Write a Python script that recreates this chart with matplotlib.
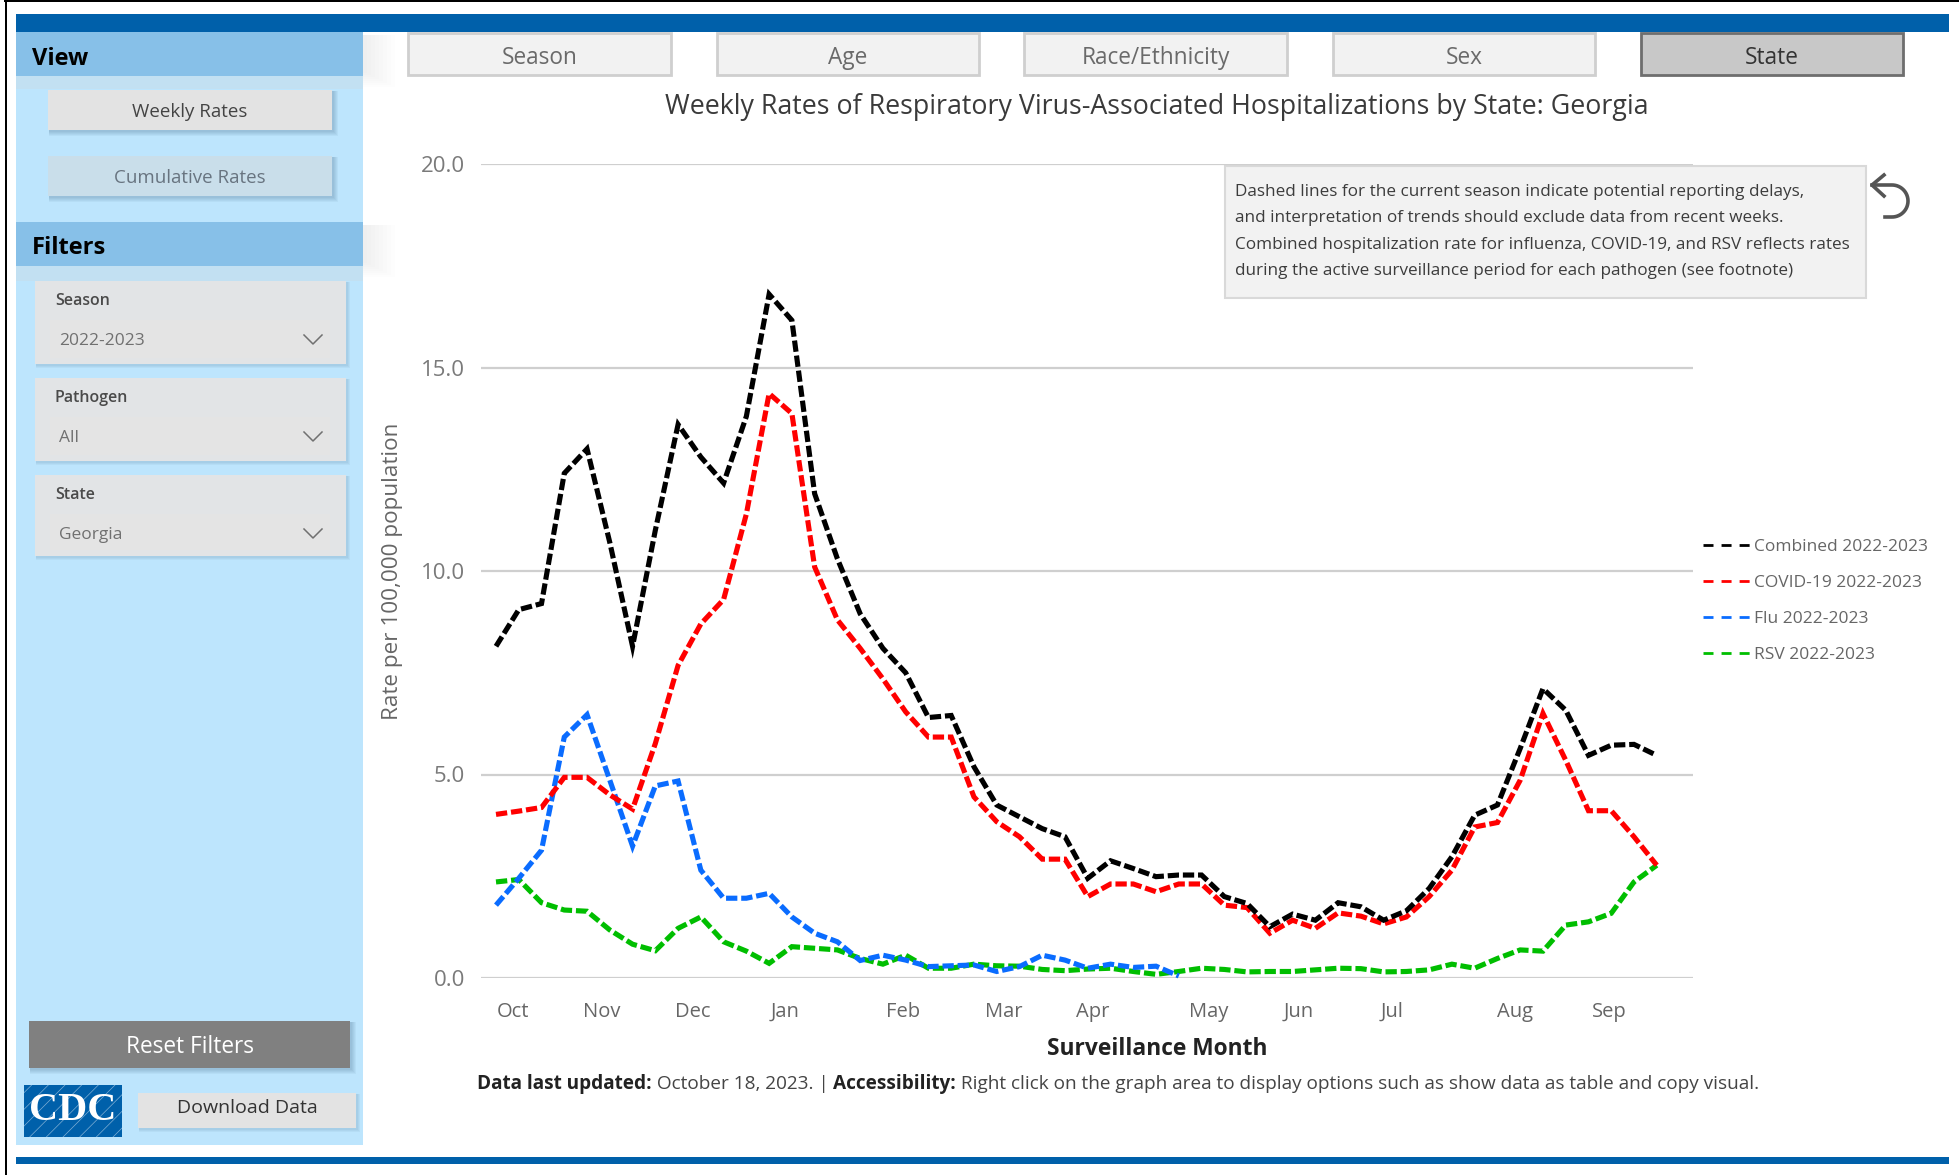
import matplotlib
matplotlib.use('Agg')
import matplotlib.pyplot as plt
from matplotlib.patches import Rectangle
import numpy as np

# weekly values, Oct 2022 to Sep 2023
combined = [8.15, 9.05, 9.2, 12.4, 13.0, 10.7, 8.15, 11.0, 13.6, 12.8, 12.16, 13.8, 16.8, 16.16, 11.9, 10.3,
            8.95, 8.1, 7.5, 6.4, 6.45, 5.19, 4.25, 3.96, 3.67, 3.47, 2.45, 2.88, 2.69, 2.49, 2.53, 2.53,
            2.0, 1.83, 1.26, 1.57, 1.42, 1.85, 1.75, 1.42, 1.65, 2.2, 2.98, 4.0, 4.25, 5.64, 7.11, 6.58,
            5.47, 5.72, 5.74, 5.47]
covid = [4.02, 4.1, 4.19, 4.93, 4.93, 4.5, 4.15, 5.76, 7.68, 8.7, 9.3, 11.4, 14.36, 13.87, 10.1, 8.8,
         8.1, 7.35, 6.54, 5.92, 5.92, 4.45, 3.84, 3.47, 2.92, 2.92, 2.0, 2.31, 2.31, 2.12, 2.31, 2.31,
         1.79, 1.73, 1.1, 1.42, 1.22, 1.6, 1.52, 1.33, 1.5, 2.0, 2.65, 3.71, 3.82, 4.86, 6.5, 5.35,
         4.11, 4.11, 3.47, 2.77]
flu = [1.79, 2.45, 3.14, 5.92, 6.47, 4.86, 3.24, 4.72, 4.84, 2.65, 1.96, 1.96, 2.08, 1.5, 1.1, 0.89,
       0.43, 0.56, 0.44, 0.28, 0.3, 0.32, 0.16, 0.28, 0.56, 0.44, 0.24, 0.34, 0.26, 0.29, 0.05]
rsv = [2.36, 2.42, 1.85, 1.67, 1.64, 1.18, 0.83, 0.67, 1.22, 1.5, 0.89, 0.66, 0.36, 0.77, 0.73, 0.69,
       0.48, 0.34, 0.56, 0.24, 0.24, 0.34, 0.3, 0.29, 0.21, 0.18, 0.22, 0.24, 0.16, 0.09, 0.16, 0.24,
       0.21, 0.15, 0.16, 0.16, 0.2, 0.24, 0.23, 0.15, 0.16, 0.2, 0.34, 0.24, 0.48, 0.69, 0.66, 1.3,
       1.38, 1.59, 2.36, 2.77]
months = ['Oct', 'Nov', 'Dec', 'Jan', 'Feb', 'Mar', 'Apr', 'May', 'Jun', 'Jul', 'Aug', 'Sep']
month_weeks = [0.75, 4.65, 8.65, 12.7, 17.9, 22.3, 26.2, 31.3, 35.25, 39.35, 44.75, 48.9]
y_ticks = [0, 5, 10, 15, 20]
tabs = ['Season', 'Age', 'Race/Ethnicity', 'Sex', 'State']
note_lines = ['Dashed lines for the current season indicate potential reporting delays,',
              'and interpretation of trends should exclude data from recent weeks.',
              'Combined hospitalization rate for influenza, COVID-19, and RSV reflects rates',
              'during the active surveillance period for each pathogen (see footnote)']

W, H = 1959, 1175
plt.rcParams['font.family'] = ['Open Sans', 'DejaVu Sans']
plt.rcParams['hatch.linewidth'] = 0.5
fig = plt.figure(figsize=(W / 100, H / 100), dpi=100)

# page furniture is drawn in pixel coordinates on a full figure axes
ui = fig.add_axes([0, 0, 1, 1], zorder=1)
ui.set_xlim(0, W)
ui.set_ylim(H, 0)
ui.axis('off')


def box(x0, y0, x1, y1, color, edge='none', lw=0, z=2):
    ui.add_patch(Rectangle((x0, y0), x1 - x0, y1 - y0, facecolor=color, edgecolor=edge, linewidth=lw, zorder=z))


def shadow(x0, y0, x1, y1, size=5):
    for i in range(size, 0, -1):
        ui.add_patch(Rectangle((x0 + 1, y0 + 1), x1 - x0 + i, y1 - y0 + i, facecolor='#3A5F80',
                               alpha=0.06, edgecolor='none', zorder=2))


def label(x, y, s, size=14, color='#444444', ha='center', weight='normal', z=5):
    # va center sits a little high with this font
    return ui.text(x, y + size * 0.15, s, fontsize=size, color=color, ha=ha, va='center', weight=weight, zorder=z)


# page frame and bars
box(4, 0, W, 1.5, 'black')
box(5, 0, 7, H, 'black')
box(16, 14, 1949, 32, '#0060AA', z=3)
box(16, 1157, 1949, 1164, '#0060AA', z=3)

# side panel
box(16, 32, 363, 1145, '#BDE5FD', z=1)
for y0 in [32, 222]:
    for i in range(8):
        ui.add_patch(Rectangle((363, y0 + 3), 4 + i * 4, 38 + i * 2, facecolor='#888888', alpha=0.012,
                               edgecolor='none', zorder=0.5))
box(16, 32, 363, 76, '#87C0E8')
box(16, 76, 363, 89, '#C2E0F2', z=1.5)
box(16, 222, 363, 266, '#87C0E8')
box(16, 266, 363, 281, '#C2E0F2', z=1.5)
label(32, 56, 'View', 17, 'black', 'left', 'bold')
label(32, 245, 'Filters', 17, 'black', 'left', 'bold')

shadow(48, 90, 332, 130)
box(48, 90, 332, 130, '#E3E3E3')
label(190, 110, 'Weekly Rates', 13.5, '#444444')
shadow(48, 156, 332, 196)
box(48, 156, 332, 196, '#C9DEEA')
label(190, 176, 'Cumulative Rates', 13.5, '#687480')

slicers = [('Season', '2022-2023', 281, 364), ('Pathogen', 'All', 378, 461), ('State', 'Georgia', 475, 556)]
for name, value, y0, y1 in slicers:
    shadow(35, y0, 346, y1, 3)
    box(35, y0, 346, y1, '#E2E4E6')
    box(50, y0 + 39, 330, y1 - 6, '#E4E4E4', z=2.5)
    label(55, y0 + 18, name, 11.5, '#4A4A4A', 'left', 'semibold')
    label(59, y0 + 58, value, 12.5, '#707070', 'left')
    cx, cy = 313, y0 + 58
    ui.plot([cx - 9, cx, cx + 9], [cy - 4, cy + 5, cy - 4], color='#707070', lw=1.1, zorder=5)

shadow(29, 1021, 350, 1068)
box(29, 1021, 350, 1068, '#808080')
label(190, 1045, 'Reset Filters', 16.3, 'white')
box(24, 1085, 122, 1137, '#0060AA')
ui.add_patch(Rectangle((24, 1085), 98, 52, facecolor='none', edgecolor='#7FAFD4', hatch='//', linewidth=0, zorder=2.5))
ui.text(73, 1110, 'CDC', fontsize=29, color='white', ha='center', va='center', weight='bold',
        family='Liberation Serif', zorder=5)
shadow(138, 1093, 356, 1128, 3)
box(138, 1093, 356, 1128, '#E3E3E3')
label(247, 1106, 'Download Data', 14, '#333333')

# tab row
tab_x = [(408, 671), (717, 979), (1024, 1287), (1333, 1595), (1641, 1903)]
for name, (x0, x1) in zip(tabs, tab_x):
    on = name == 'State'
    box(x0, 33, x1, 75, '#C8C8C8' if on else '#F2F2F2', '#6E6E6E' if on else '#CFCFCF', 2)
    label((x0 + x1) / 2, 56, name, 16.3, '#333333' if on else '#6A6A6A')

label(1157, 104, 'Weekly Rates of Respiratory Virus-Associated Hospitalizations by State: Georgia', 19.3, '#3A3A3A')

# note box and the back arrow
box(1225, 166, 1866, 298, '#F2F2F2', '#D9D9D9', 1.5)
for i, line in enumerate(note_lines):
    label(1235, 190 + i * 26.4, line, 12.37, '#3C3C3C', 'left')
ang = np.linspace(-90, 90, 30) * np.pi / 180
arc_x = 1892 + 16 * np.cos(ang)
arc_y = 201 + 16 * np.sin(ang)
ui.plot(np.r_[1872, arc_x, 1885], np.r_[185, arc_y, 217], color='#555555', lw=2.6, zorder=5)
ui.plot([1884, 1872, 1884], [175, 185, 196], color='#555555', lw=2.6, zorder=5)

# the chart itself
x0, x1, y_top, y_bot = 481, 1693, 164, 978
week_px = 22.76
ax = fig.add_axes([x0 / W, 1 - y_bot / H, (x1 - x0) / W, (y_bot - y_top) / H], zorder=2)
ax.patch.set_alpha(0)
ax.set_xlim((x0 - 496) / week_px, (x1 - 496) / week_px)
ax.set_ylim(0, 20)
for s in ax.spines.values():
    s.set_visible(False)
ax.set_yticks(y_ticks)
ax.set_yticklabels([f'{v:.1f}' for v in y_ticks])
ax.set_xticks(month_weeks)
ax.set_xticklabels(months)
ax.tick_params(axis='y', length=0, pad=11.5, labelsize=16, labelcolor='#7A7A7A')
ax.tick_params(axis='x', length=0, pad=17, labelsize=14.5, labelcolor='#666666')
ax.grid(axis='y', color='#CFCFCF', lw=1.6)
ax.set_axisbelow(True)
ax.set_ylabel('Rate per 100,000 population', fontsize=16.2, color='#666666')
ax.yaxis.set_label_coords((403 - x0) / (x1 - x0), 0.5)

series = [(combined, '#000000', 'Combined 2022-2023'), (covid, '#FF0000', 'COVID-19 2022-2023'),
          (flu, '#0A6CFF', 'Flu 2022-2023'), (rsv, '#00BE00', 'RSV 2022-2023')]
for vals, col, name in reversed(series):
    ax.plot(np.arange(len(vals)), vals, color=col, lw=3.7, dashes=(2.2, 0.75), dash_capstyle='butt',
            dash_joinstyle='miter', label=name, clip_on=False)

handles, names = ax.get_legend_handles_labels()
leg = ax.legend(handles[::-1], names[::-1], loc='upper left', bbox_to_anchor=(1703 / W, 1 - 539 / H),
                bbox_transform=fig.transFigure, frameon=False, fontsize=12.5, labelcolor='#666666',
                handlelength=2.7, handletextpad=0.25, labelspacing=1.14, borderpad=0, borderaxespad=0)
for h in leg.get_lines():
    h.set_linewidth(2)
    h.set_dashes((3.6, 2.9))

label(1157, 1047, 'Surveillance Month', 16.4, '#222222', weight='bold')

# footer has mixed weights, so each piece starts where the last one ended
pieces = [('Data last updated:', 'bold', '#222222'), (' October 18, 2023. | ', 'normal', '#444444'),
          ('Accessibility:', 'bold', '#222222'),
          (' Right click on the graph area to display options such as show data as table and copy visual.',
           'normal', '#444444')]
renderer = fig.canvas.get_renderer()
px = 477
for s, wt, col in pieces:
    t = ui.text(px, 1084, s.replace(' ', '\u00a0'), fontsize=13.7, color=col, weight=wt, ha='left', va='center', zorder=5)
    px = t.get_window_extent(renderer).x1

fig.savefig('out.png', dpi=100, facecolor='white')
